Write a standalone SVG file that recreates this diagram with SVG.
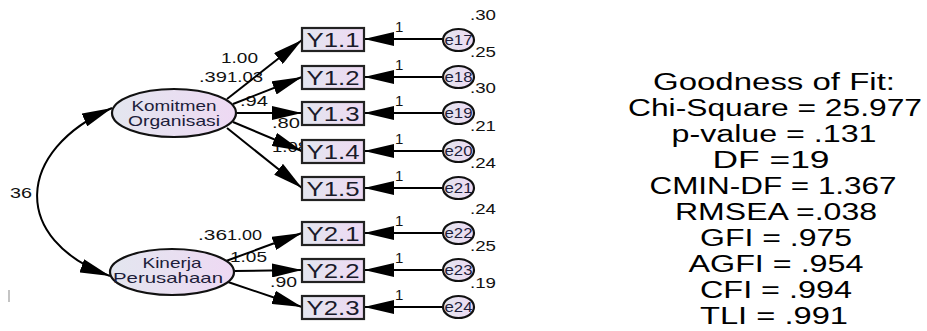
<svg xmlns="http://www.w3.org/2000/svg" width="927" height="331" viewBox="0 0 927 331">
<defs>
<linearGradient id="fillg" x1="0" y1="0" x2="1" y2="0">
<stop offset="0" stop-color="#e3e6ef"/>
<stop offset="1" stop-color="#eed9f3"/>
</linearGradient>
<marker id="ah" viewBox="0 0 30 14" refX="30" refY="7" markerWidth="30" markerHeight="14" markerUnits="userSpaceOnUse" orient="auto-start-reverse">
<path d="M0,0 L30,7 L0,14 z" fill="#000"/>
</marker>
<style>
.conn line, .conn path { stroke:#000; stroke-width:2; fill:none; }
.box { fill:url(#fillg); stroke:#222; stroke-width:2.2; }
.ell { fill:url(#fillg); stroke:#111; stroke-width:2.2; }
.t { font-family:"Liberation Sans", Arial, sans-serif; fill:#111; }
.bt { font-size:21px; text-anchor:middle; fill:#1a1a2a; }
.lt { font-size:15px; }
.et { font-size:14px; text-anchor:middle; fill:#1d1d3a; }
.nt { font-size:14.5px; text-anchor:middle; fill:#1d1d3a; }
.gf { font-size:23px; text-anchor:middle; fill:#000; }
</style>
</defs>
<rect width="927" height="331" fill="#fff"/>
<rect x="8" y="290" width="2" height="12" fill="#c4c4c4"/>

<g id="path-labels">
<text class="t lt" x="221" y="63" textLength="37" lengthAdjust="spacingAndGlyphs">1.00</text>
<text class="t lt" x="199" y="82" textLength="28" lengthAdjust="spacingAndGlyphs">.39</text>
<text class="t lt" x="227" y="82" textLength="36" lengthAdjust="spacingAndGlyphs">1.03</text>
<text class="t lt" x="240" y="106" textLength="28" lengthAdjust="spacingAndGlyphs">.94</text>
<text class="t lt" x="272" y="128" textLength="28" lengthAdjust="spacingAndGlyphs">.80</text>
<text class="t lt" x="272" y="152" textLength="36" lengthAdjust="spacingAndGlyphs">1.08</text>
<text class="t lt" x="198" y="240" textLength="29" lengthAdjust="spacingAndGlyphs">.36</text>
<text class="t lt" x="227" y="240" textLength="35" lengthAdjust="spacingAndGlyphs">1.00</text>
<text class="t lt" x="230" y="262" textLength="37" lengthAdjust="spacingAndGlyphs">1.05</text>
<text class="t lt" x="270" y="287" textLength="27" lengthAdjust="spacingAndGlyphs">.90</text>
<text class="t lt" x="10" y="198" textLength="22" lengthAdjust="spacingAndGlyphs">36</text>
</g>

<g id="connectors" class="conn">
<path d="M112,108 C15,150 10,240 110,276" marker-start="url(#ah)" marker-end="url(#ah)"/>
<line x1="227" y1="99" x2="302" y2="40" marker-end="url(#ah)"/>
<line x1="233" y1="104" x2="302" y2="77" marker-end="url(#ah)"/>
<line x1="236" y1="113" x2="302" y2="113" marker-end="url(#ah)"/>
<line x1="233" y1="122" x2="302" y2="151" marker-end="url(#ah)"/>
<line x1="227" y1="128" x2="302" y2="188" marker-end="url(#ah)"/>
<line x1="226" y1="261" x2="302" y2="233" marker-end="url(#ah)"/>
<line x1="234" y1="271" x2="302" y2="270" marker-end="url(#ah)"/>
<line x1="228" y1="282" x2="302" y2="307" marker-end="url(#ah)"/>
<line x1="443" y1="39" x2="364" y2="39" marker-end="url(#ah)"/>
<line x1="443" y1="77" x2="364" y2="77" marker-end="url(#ah)"/>
<line x1="443" y1="113" x2="364" y2="113" marker-end="url(#ah)"/>
<line x1="443" y1="151" x2="364" y2="151" marker-end="url(#ah)"/>
<line x1="443" y1="188" x2="364" y2="188" marker-end="url(#ah)"/>
<line x1="443" y1="233" x2="364" y2="233" marker-end="url(#ah)"/>
<line x1="443" y1="270" x2="364" y2="270" marker-end="url(#ah)"/>
<line x1="443" y1="307" x2="364" y2="307" marker-end="url(#ah)"/>
</g>

<g id="one-labels" class="t lt">
<text x="395" y="32">1</text>
<text x="395" y="70">1</text>
<text x="395" y="106">1</text>
<text x="395" y="144">1</text>
<text x="395" y="181">1</text>
<text x="395" y="226">1</text>
<text x="395" y="263">1</text>
<text x="395" y="300">1</text>
</g>

<g id="komitmen">
<ellipse class="ell" cx="174" cy="113" rx="62" ry="24"/>
<text class="t nt" x="174" y="111" textLength="85" lengthAdjust="spacingAndGlyphs">Komitmen</text>
<text class="t nt" x="174" y="126" textLength="92" lengthAdjust="spacingAndGlyphs">Organisasi</text>
</g>
<g id="kinerja">
<ellipse class="ell" cx="172" cy="272" rx="62" ry="23"/>
<text class="t nt" x="172" y="268" textLength="59" lengthAdjust="spacingAndGlyphs">Kinerja</text>
<text class="t nt" x="168" y="283" textLength="110" lengthAdjust="spacingAndGlyphs">Perusahaan</text>
</g>

<g id="Y1.1"><rect class="box" x="302" y="28" width="62" height="23"/><text class="t bt" x="333" y="47" textLength="53" lengthAdjust="spacingAndGlyphs">Y1.1</text></g>
<g id="Y1.2"><rect class="box" x="302" y="66" width="62" height="23"/><text class="t bt" x="333" y="85" textLength="53" lengthAdjust="spacingAndGlyphs">Y1.2</text></g>
<g id="Y1.3"><rect class="box" x="302" y="102" width="62" height="23"/><text class="t bt" x="333" y="121" textLength="53" lengthAdjust="spacingAndGlyphs">Y1.3</text></g>
<g id="Y1.4"><rect class="box" x="302" y="140" width="62" height="23"/><text class="t bt" x="333" y="159" textLength="53" lengthAdjust="spacingAndGlyphs">Y1.4</text></g>
<g id="Y1.5"><rect class="box" x="302" y="177" width="62" height="23"/><text class="t bt" x="333" y="196" textLength="53" lengthAdjust="spacingAndGlyphs">Y1.5</text></g>
<g id="Y2.1"><rect class="box" x="302" y="222" width="62" height="23"/><text class="t bt" x="333" y="241" textLength="53" lengthAdjust="spacingAndGlyphs">Y2.1</text></g>
<g id="Y2.2"><rect class="box" x="302" y="259" width="62" height="23"/><text class="t bt" x="333" y="278" textLength="53" lengthAdjust="spacingAndGlyphs">Y2.2</text></g>
<g id="Y2.3"><rect class="box" x="302" y="296" width="62" height="23"/><text class="t bt" x="333" y="315" textLength="53" lengthAdjust="spacingAndGlyphs">Y2.3</text></g>

<g id="e17"><ellipse class="ell" cx="458.5" cy="40" rx="15.5" ry="11"/><text class="t et" x="458.5" y="45" textLength="28" lengthAdjust="spacingAndGlyphs">e17</text></g>
<g id="e18"><ellipse class="ell" cx="458.5" cy="77" rx="15.5" ry="11"/><text class="t et" x="458.5" y="82" textLength="28" lengthAdjust="spacingAndGlyphs">e18</text></g>
<g id="e19"><ellipse class="ell" cx="458.5" cy="113" rx="15.5" ry="11"/><text class="t et" x="458.5" y="118" textLength="28" lengthAdjust="spacingAndGlyphs">e19</text></g>
<g id="e20"><ellipse class="ell" cx="458.5" cy="151" rx="15.5" ry="11"/><text class="t et" x="458.5" y="156" textLength="28" lengthAdjust="spacingAndGlyphs">e20</text></g>
<g id="e21"><ellipse class="ell" cx="458.5" cy="188" rx="15.5" ry="11"/><text class="t et" x="458.5" y="193" textLength="28" lengthAdjust="spacingAndGlyphs">e21</text></g>
<g id="e22"><ellipse class="ell" cx="458.5" cy="233" rx="15.5" ry="11"/><text class="t et" x="458.5" y="238" textLength="28" lengthAdjust="spacingAndGlyphs">e22</text></g>
<g id="e23"><ellipse class="ell" cx="458.5" cy="270" rx="15.5" ry="11"/><text class="t et" x="458.5" y="275" textLength="28" lengthAdjust="spacingAndGlyphs">e23</text></g>
<g id="e24"><ellipse class="ell" cx="458.5" cy="307" rx="15.5" ry="11"/><text class="t et" x="458.5" y="312" textLength="28" lengthAdjust="spacingAndGlyphs">e24</text></g>

<g id="variances" class="t lt">
<text x="470" y="20" textLength="26" lengthAdjust="spacingAndGlyphs">.30</text>
<text x="470" y="57" textLength="26" lengthAdjust="spacingAndGlyphs">.25</text>
<text x="470" y="93" textLength="26" lengthAdjust="spacingAndGlyphs">.30</text>
<text x="470" y="131" textLength="26" lengthAdjust="spacingAndGlyphs">.21</text>
<text x="470" y="168" textLength="26" lengthAdjust="spacingAndGlyphs">.24</text>
<text x="470" y="214" textLength="26" lengthAdjust="spacingAndGlyphs">.24</text>
<text x="470" y="251" textLength="26" lengthAdjust="spacingAndGlyphs">.25</text>
<text x="470" y="288" textLength="26" lengthAdjust="spacingAndGlyphs">.19</text>
</g>

<g id="goodness-of-fit" class="t gf">
<text x="774" y="90" textLength="242" lengthAdjust="spacingAndGlyphs">Goodness of Fit:</text>
<text x="775" y="116" textLength="294" lengthAdjust="spacingAndGlyphs">Chi-Square = 25.977</text>
<text x="774" y="142" textLength="205" lengthAdjust="spacingAndGlyphs">p-value = .131</text>
<text x="771" y="168" textLength="117" lengthAdjust="spacingAndGlyphs">DF =19</text>
<text x="773" y="194" textLength="247" lengthAdjust="spacingAndGlyphs">CMIN-DF = 1.367</text>
<text x="776" y="220" textLength="202" lengthAdjust="spacingAndGlyphs">RMSEA =.038</text>
<text x="776" y="246" textLength="152" lengthAdjust="spacingAndGlyphs">GFI = .975</text>
<text x="776" y="272" textLength="175" lengthAdjust="spacingAndGlyphs">AGFI = .954</text>
<text x="776" y="298" textLength="152" lengthAdjust="spacingAndGlyphs">CFI = .994</text>
<text x="774" y="324" textLength="148" lengthAdjust="spacingAndGlyphs">TLI = .991</text>
</g>
</svg>
